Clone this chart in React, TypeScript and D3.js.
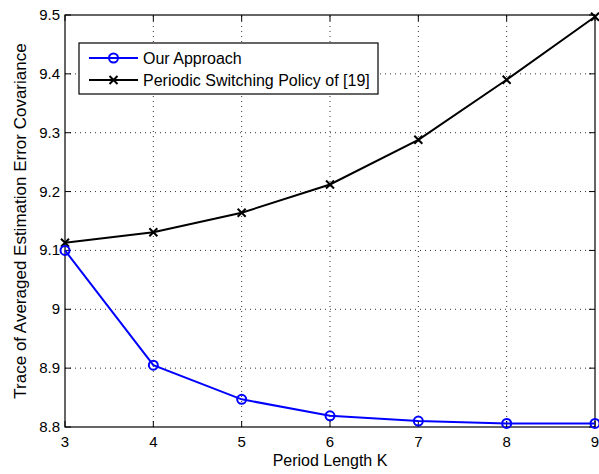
import React from 'react';
import * as d3 from 'd3';

const periods = [3, 4, 5, 6, 7, 8, 9];
const ourApproach = [9.100, 8.905, 8.847, 8.819, 8.810, 8.806, 8.806];
const periodicPolicy = [9.113, 9.131, 9.164, 9.212, 9.288, 9.390, 9.497];
const yTicks = [8.8, 8.9, 9.0, 9.1, 9.2, 9.3, 9.4, 9.5];
const yTickLabels = ['8.8', '8.9', '9', '9.1', '9.2', '9.3', '9.4', '9.5'];

const W = 599;
const H = 474;
const margin = { left: 65, right: 4, top: 15, bottom: 47 };
const font = '"Liberation Sans", Arial, Helvetica, sans-serif';

const App: React.FC = () => {
    const x = d3.scaleLinear().domain([3, 9]).range([margin.left, W - margin.right]);
    const y = d3.scaleLinear().domain([8.8, 9.5]).range([H - margin.bottom, margin.top]);

    const line = d3.line<number>()
        .x((_, i) => x(periods[i]))
        .y(d => y(d));

    const x0 = x.range()[0], x1 = x.range()[1];
    const y0 = y.range()[0], y1 = y.range()[1];
    const tickLen = 6;

    return (
        <svg width={W} height={H} style={{ position: 'absolute', left: 0, top: 0, background: '#fff' }}
            fontFamily={font}>
            {/* grid */}
            {periods.slice(1, -1).map(p => (
                <line key={'gx' + p} x1={x(p)} x2={x(p)} y1={y0} y2={y1}
                    stroke="#333" strokeWidth={1} strokeDasharray="1,4" />
            ))}
            {yTicks.slice(1, -1).map(t => (
                <line key={'gy' + t} x1={x0} x2={x1} y1={y(t)} y2={y(t)}
                    stroke="#333" strokeWidth={1} strokeDasharray="1,4" />
            ))}

            {/* ticks on all sides */}
            {periods.map(p => (
                <g key={'tx' + p}>
                    <line x1={x(p)} x2={x(p)} y1={y0} y2={y0 - tickLen} stroke="#000" />
                    <line x1={x(p)} x2={x(p)} y1={y1} y2={y1 + tickLen} stroke="#000" />
                    <text x={x(p)} y={y0 + 20} textAnchor="middle" fontSize={15} fill="#000">{p}</text>
                </g>
            ))}
            {yTicks.map((t, i) => (
                <g key={'ty' + t}>
                    <line x1={x0} x2={x0 + tickLen} y1={y(t)} y2={y(t)} stroke="#000" />
                    <line x1={x1} x2={x1 - tickLen} y1={y(t)} y2={y(t)} stroke="#000" />
                    <text x={x0 - 5} y={y(t) + 5} textAnchor="end" fontSize={15} fill="#000">{yTickLabels[i]}</text>
                </g>
            ))}

            {/* box */}
            <rect x={x0} y={y1} width={x1 - x0} height={y0 - y1} fill="none" stroke="#000" strokeWidth={1.2} />

            {/* series */}
            <path d={line(periodicPolicy) || ''} fill="none" stroke="#000" strokeWidth={2} />
            {periodicPolicy.map((v, i) => (
                <path key={'pm' + i} transform={`translate(${x(periods[i])},${y(v)})`}
                    d="M-4,-4L4,4M-4,4L4,-4" stroke="#000" strokeWidth={2} fill="none" />
            ))}
            <path d={line(ourApproach) || ''} fill="none" stroke="#0000ff" strokeWidth={2} />
            {ourApproach.map((v, i) => (
                <circle key={'om' + i} cx={x(periods[i])} cy={y(v)} r={4.5}
                    fill="none" stroke="#0000ff" strokeWidth={2} />
            ))}

            {/* axis labels */}
            <text x={(x0 + x1) / 2} y={H - 8} textAnchor="middle" fontSize={16} fill="#000">Period Length K</text>
            <text transform={`translate(26,${(y0 + y1) / 2}) rotate(-90)`} textAnchor="middle"
                fontSize={17} fill="#000">Trace of Averaged Estimation Error Covariance</text>

            {/* legend */}
            <rect x={79} y={43} width={299} height={51} fill="#fff" stroke="#000" strokeWidth={1.2} />
            <line x1={89} x2={138} y1={58} y2={58} stroke="#0000ff" strokeWidth={2} />
            <circle cx={113.5} cy={58} r={4.5} fill="none" stroke="#0000ff" strokeWidth={2} />
            <text x={143} y={63.5} fontSize={16} fill="#000">Our Approach</text>
            <line x1={89} x2={138} y1={80} y2={80} stroke="#000" strokeWidth={2} />
            <path transform="translate(113.5,80)" d="M-4,-4L4,4M-4,4L4,-4" stroke="#000" strokeWidth={2} />
            <text x={143} y={85.5} fontSize={16} fill="#000">Periodic Switching Policy of [19]</text>
        </svg>
    );
};

export default App;
